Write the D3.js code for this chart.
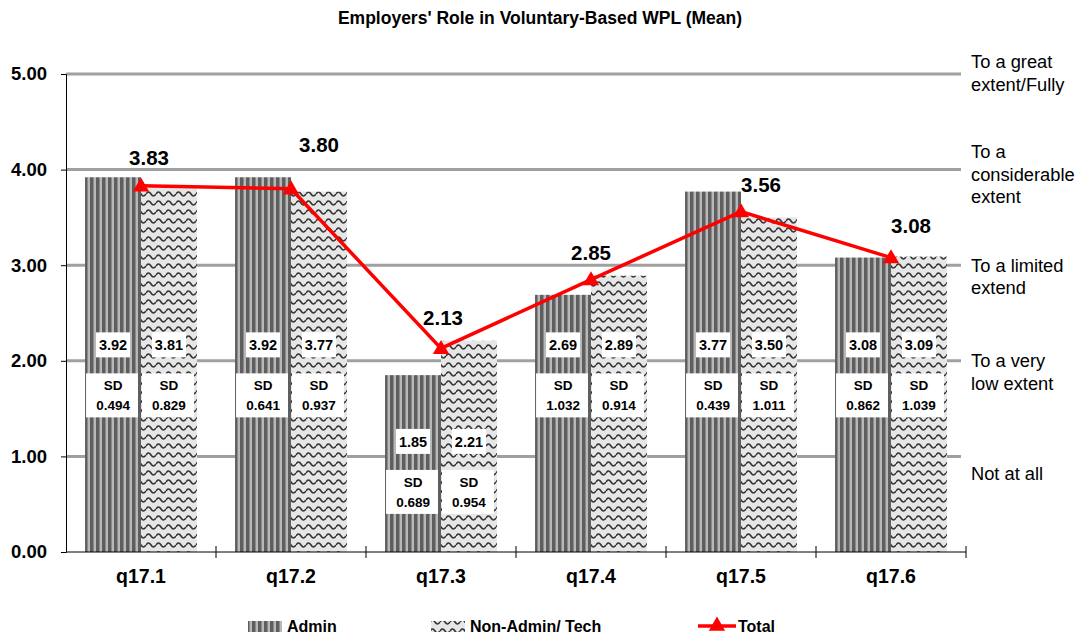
<!DOCTYPE html>
<html>
<head>
<meta charset="utf-8">
<script src="https://cdn.jsdelivr.net/npm/d3@7"></script>
<style>
  body { margin: 0; background: #fff; }
  svg { font-family: 'Liberation Sans', Arial, sans-serif; }
</style>
</head>
<body>
<div id="chart"></div>
<script>
// data
const questions = ['q17.1', 'q17.2', 'q17.3', 'q17.4', 'q17.5', 'q17.6']
const adminMean = [3.92, 3.92, 1.85, 2.69, 3.77, 3.08]
const nonAdminMean = [3.81, 3.77, 2.21, 2.89, 3.50, 3.09]
const adminSD = ['0.494', '0.641', '0.689', '1.032', '0.439', '0.862']
const nonAdminSD = ['0.829', '0.937', '0.954', '0.914', '1.011', '1.039']
const totalMean = [3.83, 3.80, 2.13, 2.85, 3.56, 3.08]
const yTicks = [0, 1, 2, 3, 4, 5]
const scaleLabels = [
  { level: 5, lines: ['To a great', 'extent/Fully'] },
  { level: 4, lines: ['To a', 'considerable', 'extent'] },
  { level: 3, lines: ['To a limited', 'extend'] },
  { level: 2, lines: ['To a very', 'low extent'] },
  { level: 1, lines: ['Not at all'] }
]
const seriesKeys = ['Admin', 'Non-Admin/ Tech']

// layout-only tweaks (where the labels sit)
const labelLevel = [1.9, 1.9, 0.89, 1.9, 1.9, 1.9]
const totalLabelDx = [8, 28, 2, 0, 20, 20]
const totalLabelDy = [-28, -44, -30, -27, -27, -32]
const scaleLabelDy = [-12, -18, 0, 0, 17]

const width = 1078
const height = 637
const margin = { top: 74, left: 66, right: 112, bottom: 85 }
const fontFamily = "'Liberation Sans', Arial, sans-serif"

const svg = d3.select('#chart')
  .append('svg')
  .attr('width', width)
  .attr('height', height)

const defs = svg.append('defs')

// vertical stripes for Admin
const stripes = defs.append('pattern')
  .attr('id', 'stripes')
  .attr('patternUnits', 'userSpaceOnUse')
  .attr('width', 6)
  .attr('height', 6)
stripes.append('rect').attr('width', 6).attr('height', 6).attr('fill', '#b8b8b8')
stripes.append('rect').attr('x', 0).attr('width', 3).attr('height', 6).attr('fill', '#5e5e5e')
stripes.append('rect').attr('x', 3).attr('width', 1).attr('height', 6).attr('fill', '#8a8a8a')

// waves for Non-Admin
const waves = defs.append('pattern')
  .attr('id', 'waves')
  .attr('patternUnits', 'userSpaceOnUse')
  .attr('width', 10)
  .attr('height', 9)
waves.append('rect').attr('width', 10).attr('height', 9).attr('fill', '#e6e6e6')
waves.append('path')
  .attr('d', 'M0,5 Q2.5,1 5,5 T10,5')
  .attr('fill', 'none')
  .attr('stroke', '#333')
  .attr('stroke-width', 1.6)

const fills = ['url(#stripes)', 'url(#waves)']

// scales
const xPositionScale = d3.scaleBand()
  .domain(questions)
  .range([margin.left, 966])
const bw = xPositionScale.bandwidth()
const xInner = d3.scaleBand()
  .domain(seriesKeys)
  .range([bw * 0.127, bw * 0.873])
const yPositionScale = d3.scaleLinear()
  .domain([0, 5])
  .range([552, margin.top])

// title
svg.append('text')
  .attr('x', 540)
  .attr('y', 24)
  .attr('text-anchor', 'middle')
  .attr('font-size', 17.5)
  .attr('font-weight', 'bold')
  .text("Employers' Role in Voluntary-Based WPL (Mean)")

// gridlines
svg.append('g')
  .selectAll('line')
  .data(yTicks.filter(d => d > 0))
  .enter()
  .append('line')
  .attr('x1', margin.left)
  .attr('x2', 961)
  .attr('y1', d => yPositionScale(d))
  .attr('y2', d => yPositionScale(d))
  .attr('stroke', '#a0a0a0')
  .attr('stroke-width', 3)

// bars
const rows = questions.map((q, i) => ({
  q: q,
  i: i,
  values: [
    { key: seriesKeys[0], value: adminMean[i], sd: adminSD[i] },
    { key: seriesKeys[1], value: nonAdminMean[i], sd: nonAdminSD[i] }
  ]
}))

const groups = svg.append('g')
  .selectAll('g')
  .data(rows)
  .enter()
  .append('g')
  .attr('transform', d => 'translate(' + xPositionScale(d.q) + ',0)')

groups.selectAll('rect')
  .data(d => d.values)
  .enter()
  .append('rect')
  .attr('x', d => xInner(d.key))
  .attr('width', xInner.bandwidth())
  .attr('y', d => yPositionScale(d.value))
  .attr('height', d => yPositionScale(0) - yPositionScale(d.value))
  .attr('fill', (d, j) => fills[j])

// bar labels: mean box + SD box
groups.each(function(row) {
  const g = d3.select(this)
  const anchor = yPositionScale(labelLevel[row.i])
  row.values.forEach(function(v) {
    const cx = xInner(v.key) + xInner.bandwidth() / 2
    g.append('rect')
      .attr('x', cx - 17)
      .attr('y', anchor - 38)
      .attr('width', 34)
      .attr('height', 25)
      .attr('fill', '#fff')
    g.append('text')
      .attr('x', cx)
      .attr('y', anchor - 20)
      .attr('text-anchor', 'middle')
      .attr('font-size', 14.5)
      .attr('font-weight', 'bold')
      .text(v.value.toFixed(2))
    g.append('rect')
      .attr('x', cx - xInner.bandwidth() / 2 + 1)
      .attr('y', anchor + 3)
      .attr('width', xInner.bandwidth() - 4)
      .attr('height', 44)
      .attr('fill', '#fff')
    g.append('text')
      .attr('x', cx)
      .attr('y', anchor + 20)
      .attr('text-anchor', 'middle')
      .attr('font-size', 13.5)
      .attr('font-weight', 'bold')
      .text('SD')
    g.append('text')
      .attr('x', cx)
      .attr('y', anchor + 40)
      .attr('text-anchor', 'middle')
      .attr('font-size', 13.5)
      .attr('font-weight', 'bold')
      .text(v.sd)
  })
})

// axes
const yAxis = d3.axisLeft(yPositionScale)
  .tickValues(yTicks)
  .tickFormat(d3.format('.2f'))
  .tickSize(5)
  .tickPadding(14)
const yAxisG = svg.append('g')
  .attr('class', 'axis y-axis')
  .attr('transform', 'translate(' + margin.left + ',0)')
  .call(yAxis)
yAxisG.selectAll('text')
  .attr('font-size', 18.5)
  .attr('font-weight', 'bold')
  .attr('fill', '#000')
  .attr('font-family', fontFamily)

const xAxis = d3.axisBottom(xPositionScale)
  .tickSize(0)
  .tickPadding(17)
const xAxisG = svg.append('g')
  .attr('class', 'axis x-axis')
  .attr('transform', 'translate(0,' + yPositionScale(0) + ')')
  .call(xAxis)
xAxisG.select('.domain').attr('d', 'M' + margin.left + ',0H966')
xAxisG.selectAll('text')
  .attr('font-size', 19.5)
  .attr('font-weight', 'bold')
  .attr('fill', '#000')
  .attr('font-family', fontFamily)
// band boundary ticks crossing the axis
xAxisG.selectAll('.band-tick')
  .data(questions)
  .enter()
  .append('line')
  .attr('x1', d => xPositionScale(d) + bw)
  .attr('x2', d => xPositionScale(d) + bw)
  .attr('y1', -6)
  .attr('y2', 6)
  .attr('stroke', '#000')

// right-hand scale labels
const rightG = svg.append('g')
scaleLabels.forEach(function(s, i) {
  const t = rightG.append('text')
    .attr('x', 971)
    .attr('y', yPositionScale(s.level) + scaleLabelDy[i])
    .attr('font-size', 18.3)
    .attr('fill', '#000')
  s.lines.forEach(function(line, j) {
    t.append('tspan')
      .attr('x', 971)
      .attr('dy', j === 0 ? '0.35em' : 22.5)
      .text(line)
  })
})

// total line
const line = d3.line()
  .x((d, i) => xPositionScale(questions[i]) + bw / 2)
  .y(d => yPositionScale(d))

svg.append('path')
  .datum(totalMean)
  .attr('fill', 'none')
  .attr('stroke', '#ff0000')
  .attr('stroke-width', 3.5)
  .attr('d', line)

const triangle = d3.symbol().type(d3.symbolTriangle).size(115)
svg.append('g')
  .selectAll('path')
  .data(totalMean)
  .enter()
  .append('path')
  .attr('d', triangle)
  .attr('fill', '#ff0000')
  .attr('transform', (d, i) => 'translate(' + (xPositionScale(questions[i]) + bw / 2) + ',' + (yPositionScale(d) + 1) + ')')

svg.append('g')
  .selectAll('text')
  .data(totalMean)
  .enter()
  .append('text')
  .attr('x', (d, i) => xPositionScale(questions[i]) + bw / 2 + totalLabelDx[i])
  .attr('y', (d, i) => yPositionScale(d) + totalLabelDy[i] + 7)
  .attr('text-anchor', 'middle')
  .attr('font-size', 20.5)
  .attr('font-weight', 'bold')
  .text(d => d.toFixed(2))

// legend
const legend = svg.append('g').attr('transform', 'translate(0,626)')
const legendItems = [
  { label: 'Admin', x: 248, type: 'bar', fill: fills[0] },
  { label: 'Non-Admin/ Tech', x: 431, type: 'bar', fill: fills[1] },
  { label: 'Total', x: 698, type: 'line' }
]
legendItems.forEach(function(item) {
  if (item.type === 'bar') {
    legend.append('rect')
      .attr('x', item.x)
      .attr('y', -5)
      .attr('width', 34)
      .attr('height', 11)
      .attr('fill', item.fill)
  } else {
    legend.append('line')
      .attr('x1', item.x)
      .attr('x2', item.x + 38)
      .attr('y1', 0)
      .attr('y2', 0)
      .attr('stroke', '#ff0000')
      .attr('stroke-width', 3.5)
    legend.append('path')
      .attr('d', triangle)
      .attr('fill', '#ff0000')
      .attr('transform', 'translate(' + (item.x + 19) + ',0)')
  }
  legend.append('text')
    .attr('x', item.x + (item.type === 'bar' ? 39 : 40))
    .attr('y', 6)
    .attr('font-size', 16)
    .attr('font-weight', 'bold')
    .text(item.label)
})
</script>
</body>
</html>
